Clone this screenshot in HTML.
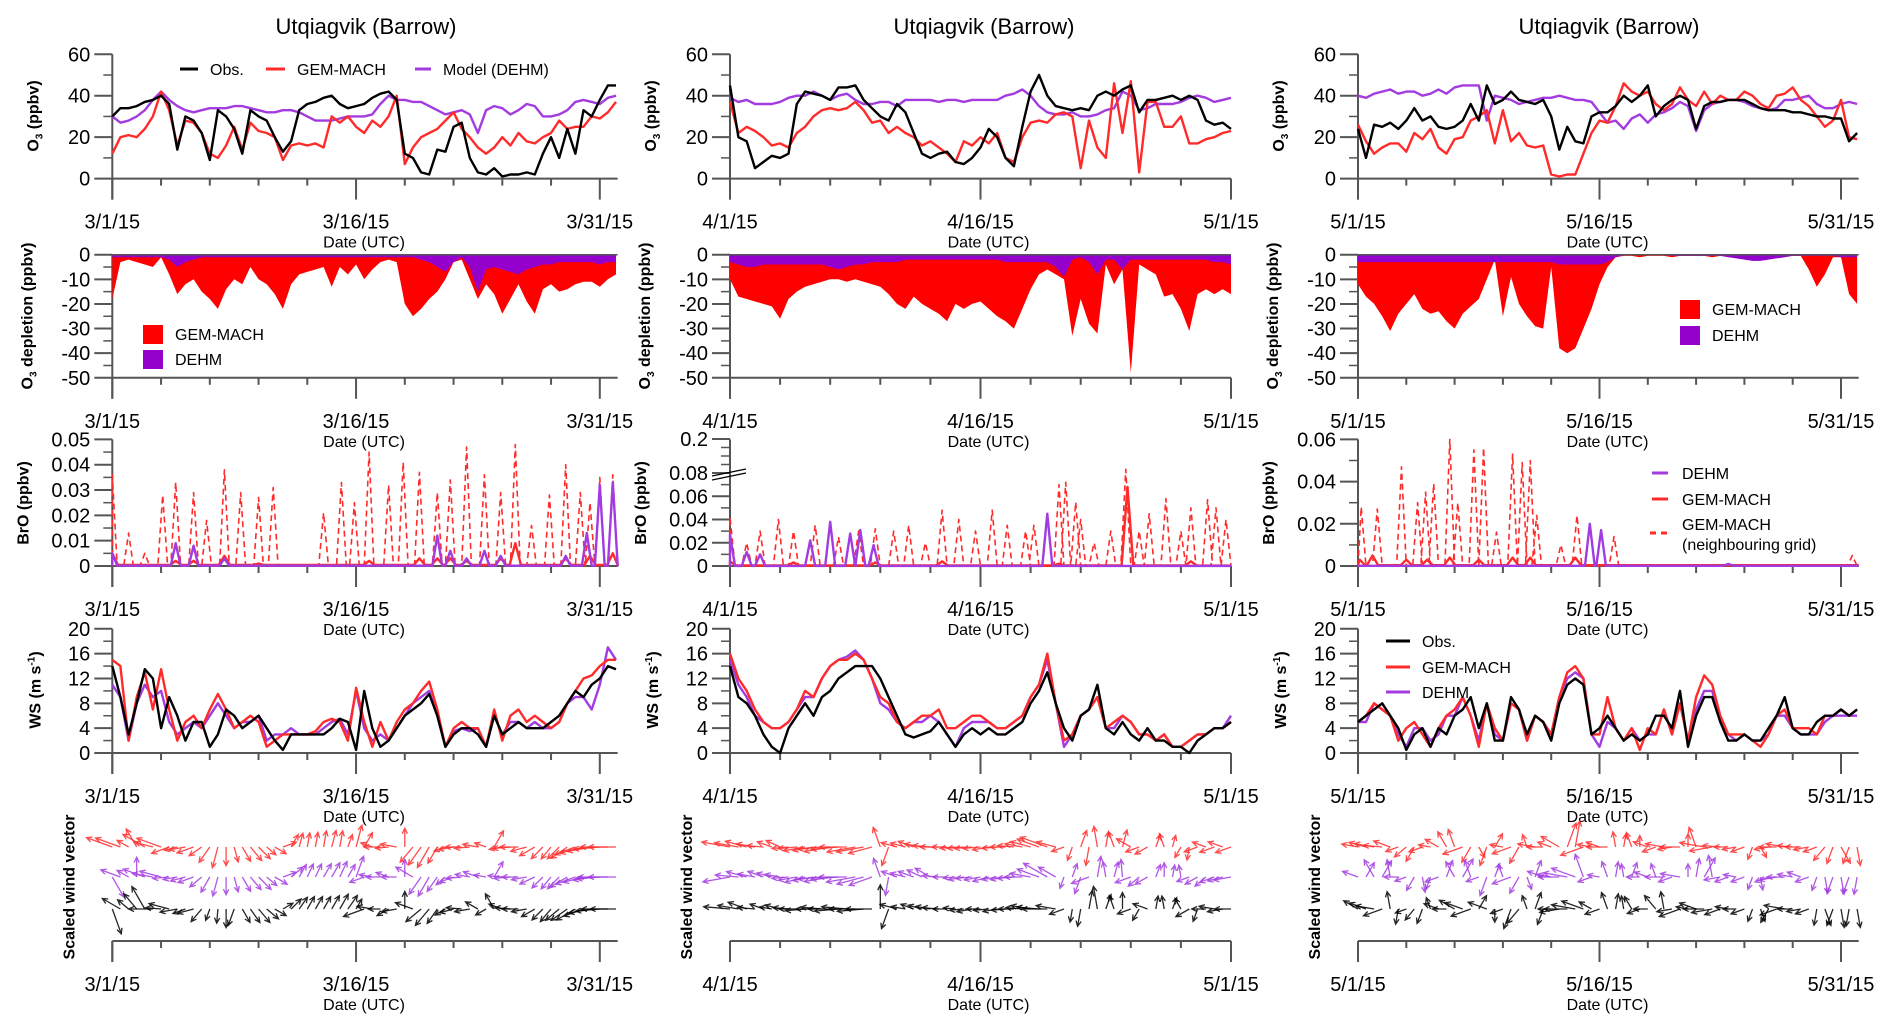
<!DOCTYPE html>
<html><head><meta charset="utf-8"><title>Utqiagvik (Barrow) O3, BrO, wind</title>
<style>
html,body{margin:0;padding:0;background:#fff}
svg{display:block;font-family:"Liberation Sans",Arial,sans-serif}
</style></head>
<body>
<svg id="fig" width="1892" height="1034" viewBox="0 0 1892 1034" xmlns="http://www.w3.org/2000/svg"></svg>
<script>
// ---------------- DATA (half-day steps starting at day 0) ----------------
const colDates = [["3/1/15","3/16/15","3/31/15"],["4/1/15","4/16/15","5/1/15"],["5/1/15","5/16/15","5/31/15"]];
// O3 (ppbv)
const o3Obs1 = [30,34,34,35,37,38,40,36,14,30,28,22,9,33,30,24,12,33,30,28,20,13,18,33,36,37,39,40,36,34,35,36,39,41,42,38,12,10,3,2,14,13,25,27,10,3,2,5,1,2,2,3,2,12,20,10,24,12,33,30,38,45,45];
const o3Gem1 = [12,20,21,20,24,30,42,33,16,28,27,22,12,10,16,25,14,27,23,22,20,9,16,17,16,17,15,30,27,30,25,22,28,25,30,40,7,15,20,22,24,28,32,24,20,15,12,15,20,16,22,18,17,20,22,28,24,25,25,30,29,32,37];
const o3Dehm1 = [30,27,28,30,33,38,42,38,35,33,32,33,34,34,34,35,35,34,33,32,32,33,33,32,30,28,28,28,29,30,30,30,31,36,40,38,38,37,37,35,33,31,32,33,31,22,33,35,34,31,33,36,35,30,30,31,33,37,38,37,36,39,40];
const o3Obs2 = [45,20,18,5,8,11,10,12,36,42,41,40,38,44,44,45,38,34,30,28,36,32,22,12,10,12,13,8,7,10,15,24,20,10,6,25,42,50,40,35,34,33,34,33,40,42,40,43,45,32,38,38,39,40,38,40,38,28,26,27,24];
const o3Gem2 = [37,22,25,23,20,16,17,15,22,25,30,33,34,33,34,37,33,27,28,22,25,22,20,16,18,15,12,8,18,16,20,17,22,10,8,20,27,28,27,31,32,30,5,28,15,10,46,22,47,3,37,37,25,25,30,17,17,19,20,22,23];
const o3Dehm2 = [39,37,38,36,36,36,37,39,40,40,42,40,38,40,41,38,36,36,37,37,35,38,38,38,38,37,38,38,37,38,38,38,38,40,41,43,40,35,32,31,31,32,30,30,31,33,34,42,40,33,34,36,36,36,37,39,40,39,37,38,39];
const o3Obs3 = [24,10,26,25,27,24,28,34,28,30,25,24,25,28,36,28,45,36,38,42,38,37,36,38,30,14,25,18,17,30,32,32,35,40,37,40,45,30,35,38,40,38,24,35,37,37,38,38,38,36,34,33,33,33,32,32,31,30,30,29,29,18,22];
const o3Gem3 = [26,18,12,15,17,17,13,22,19,24,15,12,19,20,28,30,33,17,33,18,22,16,15,16,2,1,2,2,12,22,28,27,35,46,42,40,42,36,33,36,44,38,35,42,36,40,38,38,42,40,36,34,40,41,44,38,35,30,25,28,38,20,19];
const o3Dehm3 = [40,39,41,42,43,41,42,42,40,41,43,41,44,45,45,45,28,40,39,38,36,37,38,39,39,40,39,38,38,37,32,27,28,24,29,31,27,31,32,34,37,35,23,33,36,37,38,38,37,35,34,33,34,38,38,39,40,36,34,34,36,37,36];
// O3 depletion (ppbv)
const depGem1 = [-18,-3,-2,-3,-4,-5,-1,-8,-16,-12,-10,-15,-18,-22,-14,-10,-12,-5,-10,-12,-16,-22,-12,-8,-7,-6,-5,-13,-5,-8,-4,-10,-6,-3,-2,-3,-20,-25,-22,-18,-15,-10,-3,-2,-10,-18,-12,-16,-24,-18,-12,-19,-24,-14,-12,-15,-14,-12,-11,-11,-13,-10,-8];
const depDehm1 = [-1,-1,-1,-1,-1,-1,-1,-2,-5,-3,-2,-1,-1,-1,-1,-1,-1,-1,-1,-1,-1,-1,-1,-1,-1,-1,-1,-1,-1,-1,-1,-1,-1,-1,-1,-1,-1,-1,-2,-3,-5,-7,-3,-1,-5,-15,-6,-5,-6,-7,-8,-6,-5,-4,-4,-3,-3,-3,-3,-3,-4,-3,-3];
const depGem2 = [-10,-17,-18,-19,-20,-21,-26,-18,-15,-13,-12,-11,-10,-10,-11,-10,-11,-12,-13,-16,-20,-22,-17,-20,-22,-24,-27,-20,-22,-20,-19,-22,-25,-27,-30,-22,-14,-8,-6,-8,-10,-33,-18,-28,-32,-4,-12,-6,-48,-4,-6,-8,-17,-16,-22,-31,-16,-14,-16,-14,-16];
const depDehm2 = [-3,-4,-5,-5,-4,-4,-4,-4,-4,-4,-4,-4,-5,-6,-5,-4,-4,-3,-3,-3,-3,-2,-2,-2,-2,-2,-2,-2,-2,-2,-2,-2,-2,-3,-3,-3,-3,-3,-3,-5,-9,-2,-1,-3,-8,-2,-2,-6,-2,-2,-2,-2,-2,-2,-2,-2,-2,-2,-3,-3,-4];
const depGem3 = [-12,-17,-20,-25,-31,-24,-20,-16,-22,-24,-23,-27,-30,-24,-21,-18,-10,-2,-25,-9,-20,-25,-29,-30,-5,-38,-40,-38,-30,-22,-12,-5,-1,-0.5,-0.5,-1,-0.5,-0.5,-0.5,-1,-0.5,-0.5,-0.5,-0.5,-1,-0.5,-0.5,-0.5,-0.5,-1,-0.5,-0.5,-0.5,-0.5,-0.5,-0.5,-6,-13,-8,-1,-1,-16,-20];
const depDehm3 = [-3,-3,-3,-3,-3,-3,-3,-3,-3,-3,-3,-3,-3,-3,-3,-3,-3,-3,-3,-3,-3,-3,-3,-3,-3,-4,-4,-4,-4,-4,-4,-3,-1,-0.3,-0.3,-0.3,-0.3,-0.3,-0.3,-0.5,-0.5,-0.5,-0.5,-0.5,-0.5,-0.5,-1,-1.5,-2,-2.5,-2.5,-2,-1.5,-1,-0.5,-0.5,-0.5,-0.5,-0.5,-0.5,-1,-1,-1];
// BrO spikes: peak day and value (ppbv)
const broNbDay1 = [0,1,2,3.1,3.9,5,5.8,6.9,7.9,9,9.9,13,14.1,14.9,15.8,17,17.9,18.9,20,20.8,21.8,22.9,23.9,24.8,25.8,26.9,27.9,28.8,29.4,30,30.8];
const broNbVal1 = [0.036,0.013,0.005,0.028,0.033,0.029,0.018,0.038,0.029,0.027,0.031,0.021,0.033,0.025,0.045,0.032,0.041,0.037,0.029,0.034,0.047,0.036,0.029,0.048,0.016,0.028,0.040,0.029,0.025,0.035,0.036];
const broGemDay1 = [0,3.9,5,6.9,9,15.8,18.9,20,20.8,21.8,23.9,24.8,27.9,29.4,30.8];
const broGemVal1 = [0.005,0.002,0.002,0.004,0.001,0.002,0.003,0.003,0.003,0.002,0.003,0.009,0.003,0.004,0.005];
const broDehmDay1 = [0,3.9,5,6.9,20,20.8,21.8,22.9,23.9,27.9,29.2,30,30.8];
const broDehmVal1 = [0.005,0.009,0.008,0.003,0.012,0.006,0.003,0.006,0.004,0.004,0.013,0.032,0.033];
const broNbDay2 = [0,1,1.8,2.9,3.8,5.1,6.5,7.7,8.7,9.8,10.7,11.7,12.7,13.7,14.7,15.7,16.6,17.7,18.2,19.7,20.1,20.7,21,21.8,22.8,23.7,24.5,25.1,26.1,27,27.6,28.6,29.1,29.7];
const broNbVal2 = [0.042,0.02,0.03,0.04,0.03,0.035,0.025,0.03,0.032,0.03,0.035,0.02,0.048,0.04,0.03,0.048,0.035,0.03,0.035,0.07,0.072,0.055,0.04,0.02,0.03,0.093,0.03,0.045,0.058,0.03,0.05,0.057,0.05,0.04];
const broGemDay2 = [0,3.8,8.7,12.7,19.7,23.8,27.6];
const broGemVal2 = [0.004,0.003,0.003,0.004,0.002,0.068,0.004];
const broDehmDay2 = [0,1,1.8,4.8,6,7.2,7.8,8.6,19];
const broDehmVal2 = [0.027,0.012,0.01,0.022,0.038,0.028,0.031,0.018,0.045];
const broNbDay3 = [0.2,1.2,2.7,3.7,4.2,4.7,5.7,6.2,7.2,7.8,8.6,9.6,10.2,10.7,11.1,12.6,13.6,15.9,30.7];
const broNbVal3 = [0.028,0.027,0.047,0.03,0.035,0.039,0.06,0.03,0.055,0.056,0.016,0.053,0.049,0.05,0.024,0.01,0.024,0.014,0.005];
const broGemDay3 = [0.1,0.9,3,4.3,5.7,7.5,9.6,10.7,13.5];
const broGemVal3 = [0.003,0.005,0.003,0.003,0.004,0.003,0.004,0.004,0.004];
const broDehmDay3 = [14.4,15.1,23];
const broDehmVal3 = [0.02,0.017,0.001];
// Wind speed (m/s)
const wsObs1 = [14,9,3,8,13.5,12,4,9,6,2,5,5,1,3,7,6,4,5,6,4,2,0.5,3,3,3,3,3,4,5.5,5,0.5,10,4,1,2,4,6,7,8,9.5,6,1,3,4,4,3,1,6,3,4,5,4,4,4,5,6,8,10,9,11,12,14,13.5];
const wsGem1 = [15,14,2,9,13,7,13.5,7,2,5,6,4,7,9.5,7,4,5,6,5,1,2,3,3,3,3,3.5,5,5.5,5,2,10.5,5,1,5,2,5,7,8,10,11.5,7,1,4,5,4,4,1,7,2,6,7,5,6,5,4,5,8,10,12,12.5,14,15,15];
const wsDehm1 = [11,9,2,8,11,9,10,5,3,4,5,4,6,8,6,4,5,5,6,2,3,3,4,3,3,3,4,5,5.5,3,10,4,2,3,2,4,6,8,9,10,6,1,3.5,4,3.5,4,1,6,3,5,5,4,5,4,4,5,8,9,9,7,11,17,15];
const wsObs2 = [14,9,8,6,3,1,0,4,6,8,6,9,10,12,13,14,14,14,12,9,6,3,2.5,3,3.5,5,3,1,3,4,3,4,3,3,4,5,8,10,13,8,4,2,6,7,11,4,3,5,3,2,4,2,2,1,1,0,2,3,4,4,5];
const wsGem2 = [16,12,10,7,5,4,4,5,7,10,9,12,14,15,15,16,15,12,9,8,5,4,5,6,6,7,4,4,5,6,6,5,4,4,5,6,9,11,16,8,2,3,6,7,9,4,5,6,5,3,3,2,3,1,1,2,3,3,4,4,5];
const wsDehm2 = [15,11,9,6,5,4,4,5,7,9,9,12,14,15,15.5,16.5,15,12,8,7,5,4,5,5,6,5,3,1,4,5,5,5,4,4,5,6,9,11,15,8,1,3,6,7,9,4,4,6,5,3,3,2,3,1,1,2,3,3,4,4,6];
const wsObs3 = [5,6,7,8,6,4,0.5,3,4,1,4,3,6,7,9,4,8,2,2,9,7,3,6,5,2,8,11,12,11,3,4,6,4,2,3,2,3,6,6,4,10,1,6,9,9,5,2,2,3,2,2,4,6,9,4,3,3,5,6,6,7,6,7];
const wsGem3 = [5,6,8,7,6,2,4,5,3,1,4,6,7,9,6,1,8,4,2,8,7,2,6,5,3,9,13,14,12,3,3,9,4,2,4,0.5,4,3,7,3,8,2,9,12.5,11,6,3,3,3,2,1,3,6,7,4,4,4,3,6,6,7,6,7];
const wsDehm3 = [5,5,8,7,6,3,1,4,4,2,3,6,6,9,6,2,8,3,2,8,7,2,6,5,3,9,12,13,12,3,1,5,4,2,4,2,3,3,7,3,8,2,7,10,10,5,3,2,3,2,2,3,6,6,4,3,3,3,5,6,6,6,6];
// Wind direction (screen angle, degrees; 0 = east, 90 = north)
const dirGem1 = [160,160,150,120,150,165,160,200,195,190,200,215,235,255,270,285,300,310,315,320,330,20,60,75,80,80,80,75,80,70,75,60,160,180,185,170,90,230,235,240,240,200,190,180,185,170,160,60,190,185,180,195,210,225,230,225,215,200,195,190,185,180,180];
const dirDehm1 = [300,160,150,90,160,170,165,185,190,195,200,220,240,255,270,285,300,310,315,320,330,20,40,60,65,65,60,60,65,60,70,200,170,180,160,180,90,150,235,240,235,220,200,185,170,160,170,60,175,185,180,190,205,225,230,225,210,200,195,190,185,180,180];
const dirObs1 = [290,150,140,130,120,180,175,165,190,200,195,230,250,265,270,250,300,305,310,320,330,30,45,55,60,60,60,60,60,55,60,200,170,180,210,190,90,160,220,230,235,210,195,175,190,150,210,120,160,175,180,190,210,225,230,220,215,210,200,190,185,180,180];
const dirGem2 = [170,170,165,170,175,160,155,185,185,190,190,185,190,185,180,190,190,195,110,250,165,165,160,170,175,180,180,185,185,185,185,190,185,180,175,170,165,160,160,165,200,250,70,260,100,80,110,75,150,200,210,70,110,75,240,260,200,160,200,160,200];
const dirDehm2 = [190,175,165,170,160,165,170,185,190,195,190,185,190,185,180,190,195,200,110,260,160,165,160,155,150,175,180,185,190,185,190,195,190,190,185,180,170,160,150,150,250,70,250,200,80,100,75,95,200,220,210,70,90,80,100,200,210,220,200,195,190];
const dirObs2 = [175,170,160,175,160,170,165,175,180,185,180,175,180,185,175,180,185,180,90,250,165,170,160,165,170,175,180,175,185,190,180,185,190,185,180,175,170,175,180,170,200,260,260,80,100,70,110,90,200,240,160,80,100,70,120,210,250,180,170,190,180];
const dirGem3 = [170,165,170,175,160,200,220,240,200,170,150,120,110,200,240,300,250,60,170,200,240,110,170,180,160,150,70,80,200,170,160,180,100,80,110,90,160,200,170,190,180,90,110,170,190,175,180,190,200,250,300,190,180,170,175,180,190,200,230,250,300,250,280];
const dirDehm3 = [160,60,120,60,100,180,200,240,280,250,200,70,120,60,110,200,250,70,110,200,240,290,70,160,170,180,170,160,110,200,170,110,80,100,70,180,160,110,180,200,170,90,80,60,100,190,200,170,200,250,280,200,190,180,170,160,200,250,280,250,280,250,260];
const dirObs3 = [150,160,170,200,100,260,200,230,250,110,160,180,150,160,200,60,160,270,200,250,230,110,70,250,180,190,180,170,160,150,200,110,80,100,120,200,180,130,100,190,200,170,160,180,190,200,170,180,200,250,290,240,200,170,180,190,200,260,290,250,280,260,280];

// ---------------- LAYOUT ----------------
const svg = document.getElementById('fig');
const NS = 'http://www.w3.org/2000/svg';
const RED = '#ff2b2b', PURPLE = '#a23be0', FILLRED = '#ff0000', FILLPUR = '#9400cc';
const cols = [
  {x0:112.3, dpx:16.25, end:31.1},
  {x0:730, dpx:16.7, end:30},
  {x0:1358, dpx:16.1, end:31.1}
];
function X(c,t){return c.x0 + t*c.dpx;}
function mk(tag, attrs, parent){const e=document.createElementNS(NS,tag);for(const k in attrs)e.setAttribute(k,attrs[k]);(parent||svg).appendChild(e);return e;}
function txt(x,y,s,size,anchor,weight,parent){const t=mk('text',{x:x,y:y,'font-size':size,'text-anchor':anchor||'middle','font-weight':weight||'normal',fill:'#000'},parent);t.textContent=s;return t;}

function yAxisTitle(x,y,parts,name){
  const t=mk('text',{x:0,y:0,'font-size':16,'font-weight':'bold','text-anchor':'middle',transform:`translate(${x},${y}) rotate(-90)`});
  
  
  parts.forEach(p=>{const s=mk('tspan',p.sub?{'font-size':10,dy:4}:(p.up?{'font-size':10,dy:-6}:(p.back?{dy:p.back}:{})),t);s.textContent=p.t;});
}

function drawAxes(c, ci, yTop, xAxisY, yticks, yFn, minorYs, dates, name){
  const g=mk('g',{});
  
  
  const xe=X(c,c.end);
  mk('line',{x1:c.x0,y1:yTop,x2:c.x0,y2:xAxisY+21,stroke:'#555','stroke-width':2},g);
  mk('line',{x1:c.x0,y1:xAxisY,x2:xe,y2:xAxisY,stroke:'#555','stroke-width':2},g);
  for(let d=0; d<=c.end+0.01; d+=3){
    const major=(d%15===0);
    mk('line',{x1:X(c,d),y1:xAxisY,x2:X(c,d),y2:xAxisY+(major?21:7),stroke:'#555','stroke-width':2},g);
  }
  if(yticks){
    yticks.forEach(tk=>{
      const y=yFn(tk.v);
      mk('line',{x1:c.x0-18,y1:y,x2:c.x0,y2:y,stroke:'#555','stroke-width':2},g);
      txt(c.x0-22,y+7,tk.l,20,'end','normal',g);
    });
    minorYs.forEach(v=>{const y=yFn(v);mk('line',{x1:c.x0-9,y1:y,x2:c.x0,y2:y,stroke:'#555','stroke-width':1.5},g);});
  }
  [0,15,30].forEach((d,i)=>{
    const t=txt(X(c,d),xAxisY+50,dates[i],20,'middle','normal',g);
    
    
  });
  const dl=txt(X(c,15)+8,xAxisY+69,'Date (UTC)',16,'middle','normal',g);
  
  
}

function linePath(c, vals, yFn){
  return vals.map((v,i)=>(i?'L':'M')+X(c,i*0.5).toFixed(1)+' '+yFn(v).toFixed(1)).join(' ');
}
function drawLine(c, vals, yFn, color, name, w){
  const p=mk('path',{d:linePath(c,vals,yFn),fill:'none',stroke:color,'stroke-width':w||2.4,'stroke-linejoin':'round'});
  
  
}
function drawArea(c, vals, yFn, color, name){
  const n=vals.length;
  let d='M'+X(c,0)+' '+yFn(0);
  vals.forEach((v,i)=>{d+=' L'+X(c,i*0.5).toFixed(1)+' '+yFn(v).toFixed(1);});
  d+=' L'+X(c,(n-1)*0.5)+' '+yFn(0)+' Z';
  const p=mk('path',{d:d,fill:color,stroke:'none'});
  
  
}
function drawSpikes(c, days, vals, yFn, color, w, dash, name, base){
  let d='M'+X(c,0)+' '+yFn(base);
  days.forEach((t,i)=>{
    d+=' L'+X(c,Math.max(0,t-w)).toFixed(1)+' '+yFn(base).toFixed(1);
    d+=' L'+X(c,t).toFixed(1)+' '+yFn(vals[i]).toFixed(1);
    d+=' L'+X(c,Math.min(c.end,t+w)).toFixed(1)+' '+yFn(base).toFixed(1);
  });
  d+=' L'+X(c,c.end)+' '+yFn(base);
  const a={d:d,fill:'none',stroke:color,'stroke-width':dash?1.6:2.4,'stroke-linejoin':'round'};
  if(dash)a['stroke-dasharray']='6,4';
  const p=mk('path',a);
  
  
}
function drawArrows(c, dirs, ws, baseY, color, name){
  const g=mk('g',{stroke:color,'stroke-width':1.3,fill:'none','stroke-opacity':0.85});
  
  
  dirs.forEach((a,i)=>{
    const t=i*0.5; if(t>c.end) return;
    const x=X(c,t), L=11+1.1*(ws[i]||4), r=a*Math.PI/180;
    const tx=x+L*Math.cos(r), ty=baseY-L*Math.sin(r);
    const h1=r+Math.PI-0.45, h2=r+Math.PI+0.45;
    mk('path',{d:`M${x.toFixed(1)} ${baseY} L${tx.toFixed(1)} ${ty.toFixed(1)} M${(tx+6*Math.cos(h1)).toFixed(1)} ${(ty-6*Math.sin(h1)).toFixed(1)} L${tx.toFixed(1)} ${ty.toFixed(1)} L${(tx+6*Math.cos(h2)).toFixed(1)} ${(ty-6*Math.sin(h2)).toFixed(1)}`},g);
  });
}

// row geometry
const R1={top:54.3,zero:178.6};
const R2={zero:254.7,bot:377.8};
const R3={top:439.4,zero:566};
const R4={top:628.8,zero:753};
const R5={axis:941,b:[847,877,909]};
const y1=v=>R1.zero - v*(R1.zero-R1.top)/60;
const y2=v=>R2.zero - v*(R2.bot-R2.zero)/50;
const y4=v=>R4.zero - v*(R4.zero-R4.top)/20;
const y3a=v=>R3.zero - v*(R3.zero-R3.top)/0.05;
const y3c=v=>R3.zero - v*(R3.zero-R3.top)/0.06;
const y3b=v=> v<=0.08 ? R3.zero - v*(93/0.08) : (R3.zero-93) - (v-0.08)*((93+R3.zero-R3.top-93-0)/0.12)*(34/((R3.zero-R3.top)-93));

const o3Obs=[o3Obs1,o3Obs2,o3Obs3], o3Gem=[o3Gem1,o3Gem2,o3Gem3], o3Dehm=[o3Dehm1,o3Dehm2,o3Dehm3];
const depGem=[depGem1,depGem2,depGem3], depDehm=[depDehm1,depDehm2,depDehm3];
const broNbD=[broNbDay1,broNbDay2,broNbDay3], broNbV=[broNbVal1,broNbVal2,broNbVal3];
const broGD=[broGemDay1,broGemDay2,broGemDay3], broGV=[broGemVal1,broGemVal2,broGemVal3];
const broDD=[broDehmDay1,broDehmDay2,broDehmDay3], broDV=[broDehmVal1,broDehmVal2,broDehmVal3];
const wsObs=[wsObs1,wsObs2,wsObs3], wsGem=[wsGem1,wsGem2,wsGem3], wsDehm=[wsDehm1,wsDehm2,wsDehm3];
const dirObs=[dirObs1,dirObs2,dirObs3], dirGem=[dirGem1,dirGem2,dirGem3], dirDehm=[dirDehm1,dirDehm2,dirDehm3];
const titleX=[366,984,1609];

cols.forEach((c,ci)=>{
  const dates=colDates[ci];
  const tt=txt(titleX[ci],34,'Utqiagvik (Barrow)',22,'middle');
  
  

  // Row 1: O3
  drawAxes(c,ci,R1.top,R1.zero,[0,20,40,60].map(v=>({v:v,l:String(v)})),y1,[10,30,50],dates,'o3-col'+(ci+1));
  drawLine(c,o3Dehm[ci],y1,PURPLE,'o3-dehm-line');
  drawLine(c,o3Gem[ci],y1,RED,'o3-gemmach-line');
  drawLine(c,o3Obs[ci],y1,'#000','o3-obs-line');
  yAxisTitle(c.x0-74,116,[{t:'O'},{t:'3',sub:true},{t:' (ppbv)',back:-4}],'o3-y-axis-title');

  // Row 2: depletion
  drawAxes(c,ci,R2.zero,R2.bot,[0,-10,-20,-30,-40,-50].map(v=>({v:v,l:String(v)})),y2,[-5,-15,-25,-35,-45],dates,'depletion-col'+(ci+1));
  drawArea(c,depGem[ci],y2,FILLRED,'depletion-gemmach-area');
  drawArea(c,depDehm[ci],y2,FILLPUR,'depletion-dehm-area');
  mk('line',{x1:c.x0,y1:R2.zero,x2:X(c,c.end),y2:R2.zero,stroke:'#555','stroke-width':1.5});
  yAxisTitle(c.x0-80,316,[{t:'O'},{t:'3',sub:true},{t:' depletion (ppbv)',back:-4}],'depletion-y-axis-title');

  // Row 3: BrO
  let yb, tks, minors;
  if(ci===0){yb=y3a;tks=[0,0.01,0.02,0.03,0.04,0.05].map(v=>({v:v,l:String(v)}));minors=[0.005,0.015,0.025,0.035,0.045];}
  else if(ci===2){yb=y3c;tks=[0,0.02,0.04,0.06].map(v=>({v:v,l:String(v)}));minors=[0.01,0.03,0.05];}
  else {yb=v=> v<=0.08 ? R3.zero - v*(93/0.08) : (R3.zero-93) - (v-0.08)*(34/0.12);
        tks=[0,0.02,0.04,0.06,0.08].map(v=>({v:v,l:String(v)})).concat([{v:0.2,l:'0.2'}]);minors=[0.01,0.03,0.05,0.07,0.11,0.14,0.17];}
  drawAxes(c,ci,R3.top,R3.zero,tks,yb,minors,dates,'bro-col'+(ci+1));
  drawSpikes(c,broNbD[ci],broNbV[ci],yb,RED,0.3,true,'bro-gemmach-neighbour-line',0);
  drawSpikes(c,broGD[ci],broGV[ci],yb,RED,0.35,false,'bro-gemmach-line',0.0004);
  drawSpikes(c,broDD[ci],broDV[ci],yb,PURPLE,0.3,false,'bro-dehm-line',0.0001);
  if(ci===1){
    const br=mk('path',{d:`M${c.x0-18} ${R3.zero-90} L${c.x0+16} ${R3.zero-97} M${c.x0-18} ${R3.zero-86} L${c.x0+16} ${R3.zero-93}`,stroke:'#000','stroke-width':1.2,fill:'none'});
    
    
  }
  yAxisTitle(c.x0-84,503,[{t:'BrO (ppbv)'}],'bro-y-axis-title');

  // Row 4: WS
  drawAxes(c,ci,R4.top,R4.zero,[0,4,8,12,16,20].map(v=>({v:v,l:String(v)})),y4,[2,6,10,14,18],dates,'ws-col'+(ci+1));
  drawLine(c,wsDehm[ci],y4,PURPLE,'ws-dehm-line');
  drawLine(c,wsGem[ci],y4,RED,'ws-gemmach-line');
  drawLine(c,wsObs[ci],y4,'#000','ws-obs-line');
  yAxisTitle(c.x0-72,690,[{t:'WS (m s'},{t:'-1',up:true},{t:')',back:6}],'ws-y-axis-title');

  // Row 5: vectors
  drawAxes(c,ci,R5.axis,R5.axis,null,null,[],dates,'vector-col'+(ci+1));
  drawArrows(c,dirGem[ci],wsGem[ci],R5.b[0],RED,'vector-gemmach');
  drawArrows(c,dirDehm[ci],wsDehm[ci],R5.b[1],PURPLE,'vector-dehm');
  drawArrows(c,dirObs[ci],wsObs[ci],R5.b[2],'#000','vector-obs');
  yAxisTitle(c.x0-38,887,[{t:'Scaled wind vector'}],'vector-y-axis-title');
});

// ---------------- LEGENDS ----------------
function legLine(x1,x2,y,color,dash,name){
  const a={x1:x1,y1:y,x2:x2,y2:y,stroke:color,'stroke-width':3};
  if(dash)a['stroke-dasharray']='6,5';
  const l=mk('line',a);
  
  
}
function legText(x,y,s,name){const t=txt(x,y,s,16,'start');}
function legBox(x,y,w,h,color,name){const r=mk('rect',{x:x,y:y,width:w,height:h,fill:color});}
// O3 legend col1
legLine(180,198,69,'#000',false,'legend-obs-swatch'); legText(210,75,'Obs.','legend-obs-label');
legLine(266,285,69,RED,false,'legend-gemmach-swatch'); legText(297,75,'GEM-MACH','legend-gemmach-label');
legLine(415,431,69,PURPLE,false,'legend-dehm-swatch'); legText(443,75,'Model (DEHM)','legend-dehm-label');
// depletion legend col1
legBox(143,325,20,19,FILLRED,'legend-gemmach-box'); legText(175,340,'GEM-MACH','legend-gemmach-label');
legBox(143,350,20,19,FILLPUR,'legend-dehm-box'); legText(175,365,'DEHM','legend-dehm-label');
// depletion legend col3
legBox(1680,300,20,19,FILLRED,'legend-gemmach-box'); legText(1712,315,'GEM-MACH','legend-gemmach-label');
legBox(1680,326,20,19,FILLPUR,'legend-dehm-box'); legText(1712,341,'DEHM','legend-dehm-label');
// BrO legend col3
legLine(1652,1668,473,PURPLE,false,'legend-dehm-swatch'); legText(1682,479,'DEHM','legend-dehm-label');
legLine(1652,1668,499,RED,false,'legend-gemmach-swatch'); legText(1682,505,'GEM-MACH','legend-gemmach-label');
legLine(1650,1670,533,RED,true,'legend-gemmach-neighbour-swatch'); legText(1682,530,'GEM-MACH','legend-gemmach-neighbour-label'); legText(1682,550,'(neighbouring grid)','legend-gemmach-neighbour-label2');
// WS legend col3
legLine(1386,1410,641,'#000',false,'legend-obs-swatch'); legText(1422,647,'Obs.','legend-obs-label');
legLine(1386,1410,667,RED,false,'legend-gemmach-swatch'); legText(1422,673,'GEM-MACH','legend-gemmach-label');
legLine(1386,1410,692,PURPLE,false,'legend-dehm-swatch'); legText(1422,698,'DEHM','legend-dehm-label');
</script>
</body></html>
